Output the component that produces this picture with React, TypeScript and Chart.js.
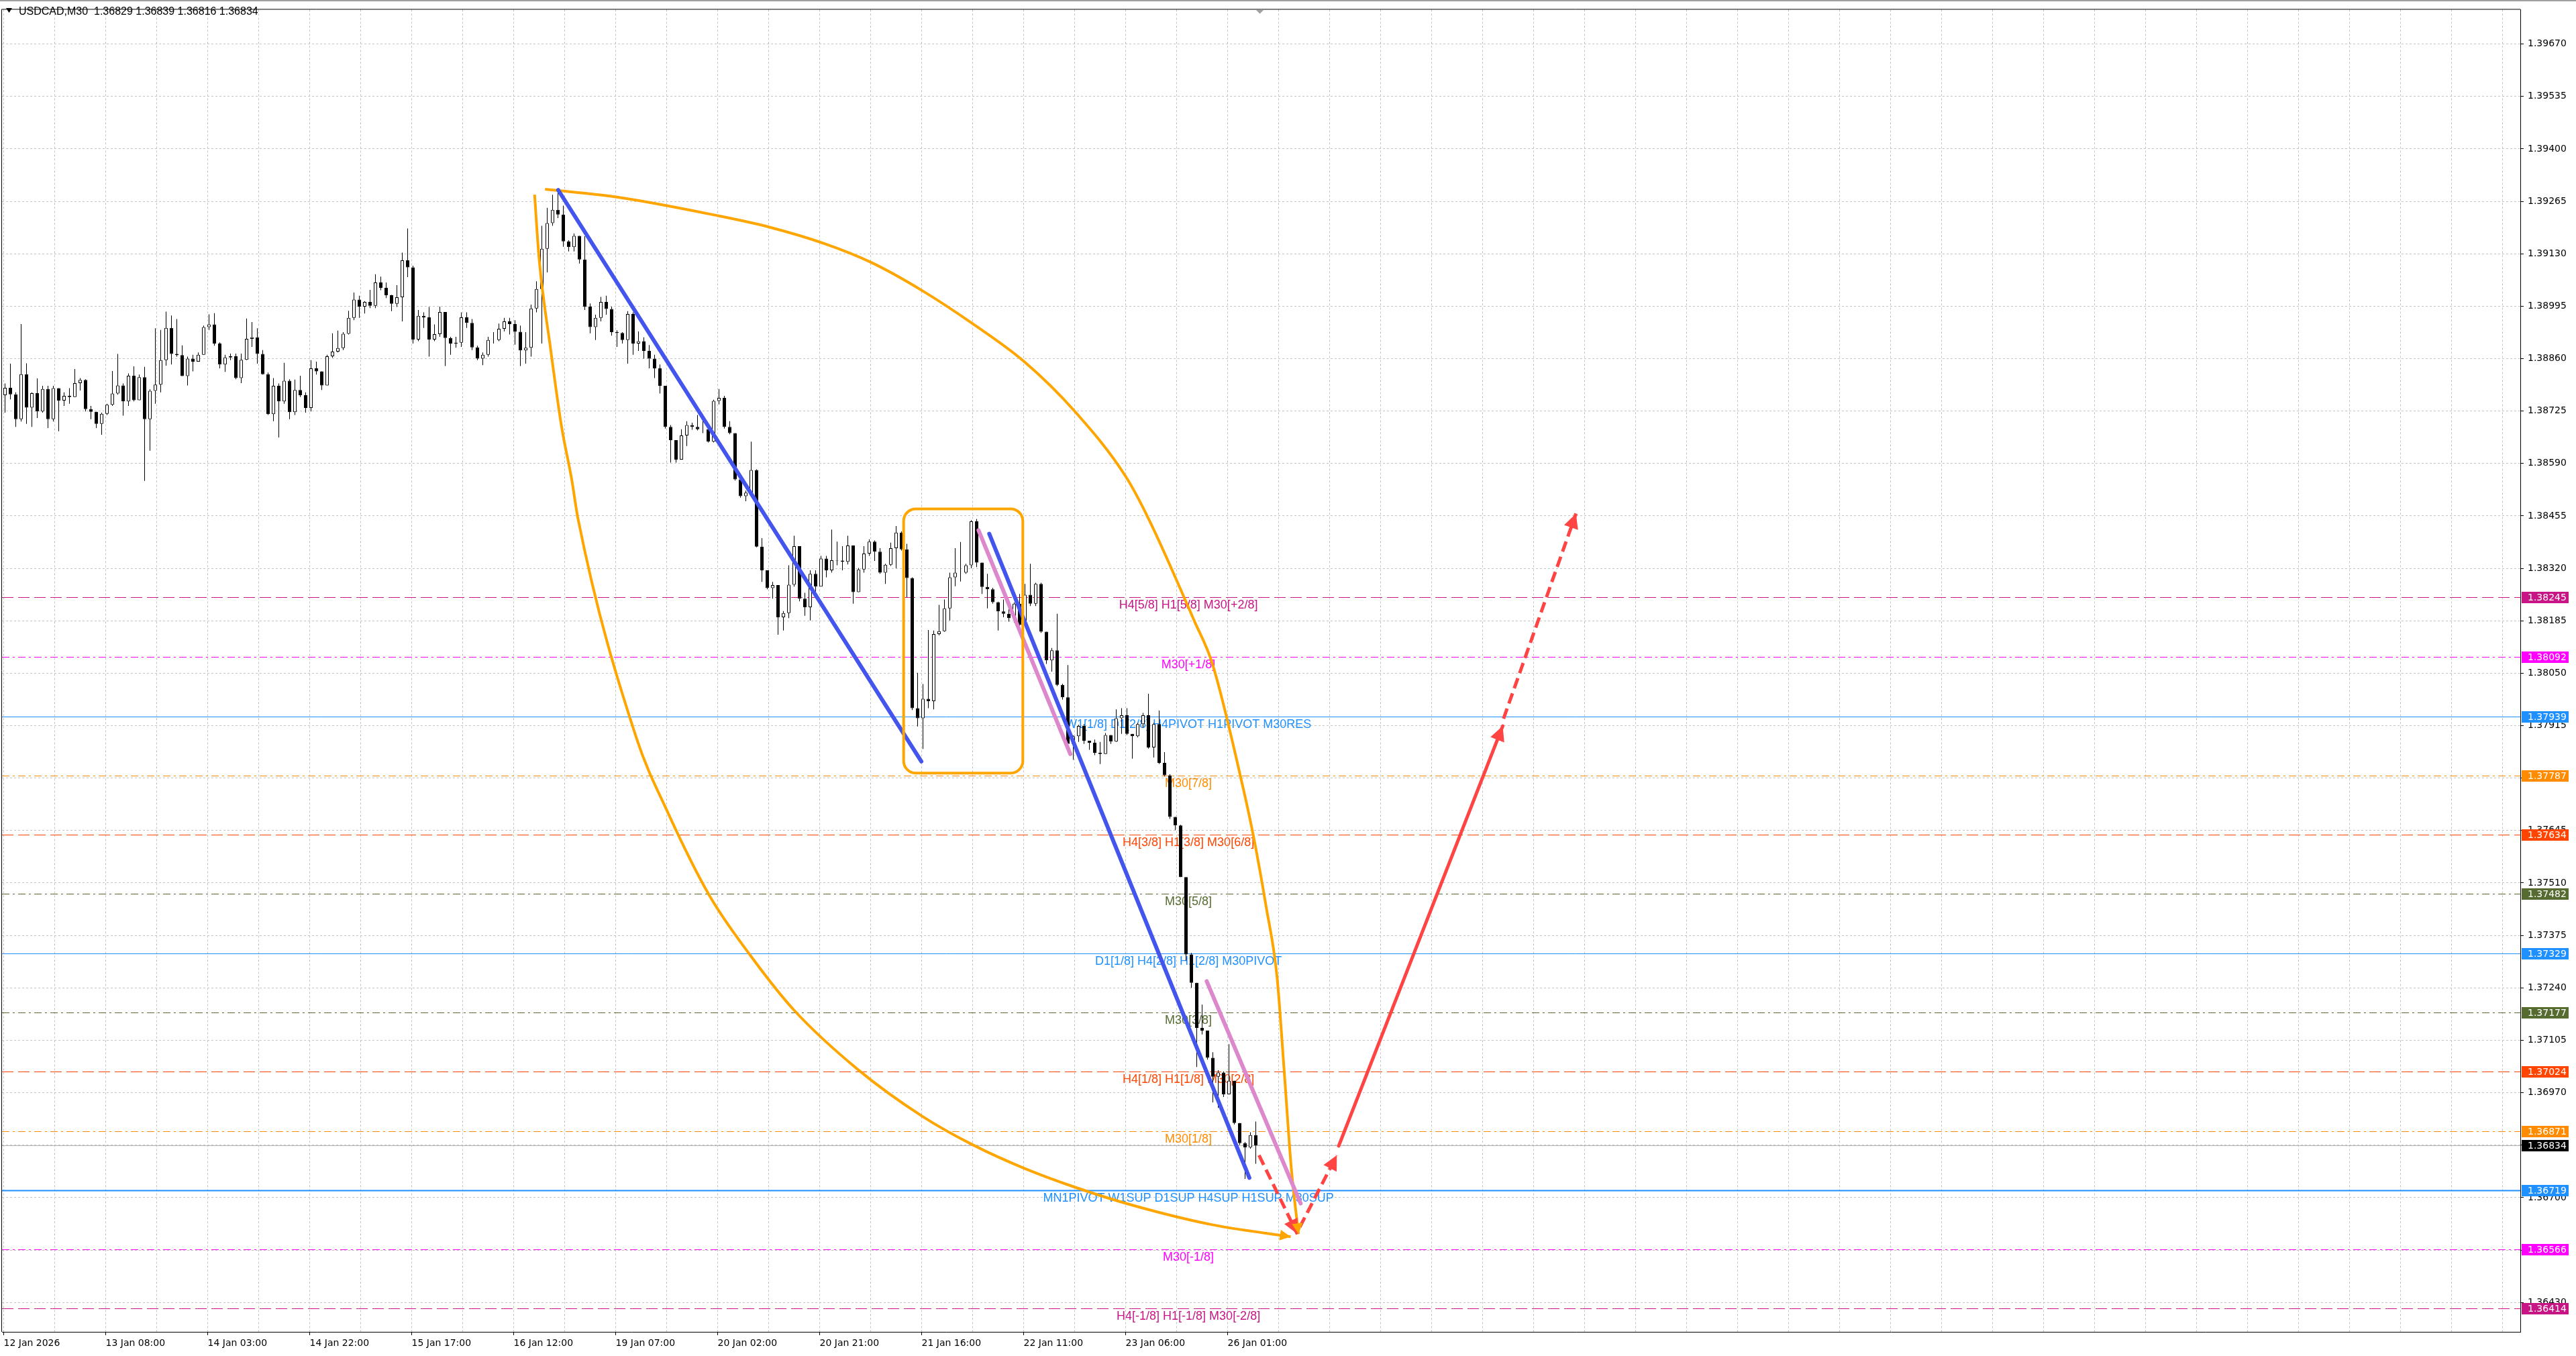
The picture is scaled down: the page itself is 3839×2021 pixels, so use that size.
import { useEffect, useRef } from 'react';
import { Chart, registerables } from 'chart.js';

Chart.register(...registerables);

const W = 3839;
const H = 2021;

const HEADER = 'USDCAD,M30  1.36829 1.36839 1.36816 1.36834';

// hourly candles, each one spans two M30 slots on the bar axis; open = previous close
const FIRST_OPEN = 1.38766;
const CLOSES = [
  1.38785, 1.38768, 1.38704, 1.3882, 1.38734, 1.38771, 1.38724, 1.38782, 1.38704, 1.38784,
  1.38752, 1.38764, 1.38761, 1.38797, 1.38805, 1.3873, 1.38723, 1.38692, 1.38718, 1.38741,
  1.3877, 1.38791, 1.3875, 1.38816, 1.38753, 1.38812, 1.38704, 1.38777, 1.38793, 1.38856,
  1.38939, 1.38872, 1.38869, 1.38815, 1.3886, 1.38852, 1.3887, 1.38941, 1.38948, 1.38899,
  1.38845, 1.38863, 1.38866, 1.3881, 1.38857, 1.38911, 1.38915, 1.38872, 1.3882, 1.38717,
  1.3879, 1.3875, 1.38803, 1.38722, 1.38779, 1.38766, 1.38733, 1.38835, 1.38827, 1.38791,
  1.38866, 1.38878, 1.38887, 1.38924, 1.38965, 1.39012, 1.38994, 1.39006, 1.38996, 1.39056,
  1.39042, 1.39023, 1.39001, 1.39018, 1.39113, 1.39095, 1.38909, 1.3897, 1.38966, 1.38909,
  1.38923, 1.3898, 1.38913, 1.38899, 1.38901, 1.38966, 1.38952, 1.38889, 1.3886, 1.3887,
  1.38908, 1.38908, 1.38937, 1.38956, 1.38949, 1.38929, 1.38881, 1.38888, 1.38989, 1.39039,
  1.39143, 1.39209, 1.39243, 1.39231, 1.39162, 1.39147, 1.39176, 1.39115, 1.38994, 1.38941,
  1.38965, 1.39006, 1.38988, 1.38928, 1.38926, 1.38908, 1.38975, 1.38899, 1.38905, 1.3888,
  1.3886, 1.38835, 1.3879, 1.38684, 1.3865, 1.386, 1.38662, 1.38689, 1.38684, 1.38678,
  1.38678, 1.38646, 1.38751, 1.38759, 1.38684, 1.38668, 1.38549, 1.38506, 1.38515, 1.38573,
  1.38376, 1.38315, 1.38269, 1.38277, 1.38194, 1.38205, 1.38278, 1.38377, 1.38242, 1.3822,
  1.38306, 1.38273, 1.38345, 1.38315, 1.38341, 1.3834, 1.38337, 1.38379, 1.38259, 1.38317,
  1.38358, 1.38389, 1.38363, 1.38309, 1.38329, 1.38372, 1.38412, 1.38369, 1.38295, 1.3796,
  1.37934, 1.37984, 1.37978, 1.38151, 1.38158, 1.38217, 1.38297, 1.38309, 1.38309, 1.38328,
  1.38441, 1.38335, 1.38272, 1.38266, 1.38233, 1.38209, 1.38203, 1.38192, 1.38229, 1.38174,
  1.38252, 1.38229, 1.3828, 1.38157, 1.38083, 1.38109, 1.3802, 1.37988, 1.37868, 1.37888,
  1.37914, 1.37876, 1.37871, 1.37845, 1.37842, 1.37891, 1.37874, 1.37934, 1.37942, 1.37894,
  1.37888, 1.37919, 1.37942, 1.37859, 1.37919, 1.37819, 1.37787, 1.3768, 1.37658, 1.37525,
  1.37326, 1.37253, 1.37137, 1.3713, 1.3706, 1.37011, 1.37022, 1.36966, 1.37001, 1.36892,
  1.3684, 1.36829, 1.36861, 1.36834,
];
const HIGHS = [
  1.38796, 1.38847, 1.38773, 1.38949, 1.38848, 1.38773, 1.38809, 1.3879, 1.3879, 1.3879,
  1.38778, 1.38773, 1.38784, 1.38833, 1.3881, 1.38807, 1.38738, 1.38721, 1.38721, 1.38744,
  1.38828, 1.38872, 1.38796, 1.38822, 1.3884, 1.38819, 1.38839, 1.38781, 1.38938, 1.38934,
  1.38981, 1.38971, 1.38962, 1.38894, 1.38865, 1.3887, 1.38876, 1.38945, 1.38974, 1.38977,
  1.38902, 1.3887, 1.38873, 1.38873, 1.38873, 1.38963, 1.38954, 1.38938, 1.38882, 1.38824,
  1.3881, 1.38796, 1.38849, 1.38807, 1.38806, 1.38816, 1.38773, 1.38856, 1.38852, 1.38796,
  1.3887, 1.38925, 1.38932, 1.38928, 1.38983, 1.3903, 1.39022, 1.39008, 1.39037, 1.39077,
  1.39071, 1.39056, 1.39024, 1.39049, 1.39133, 1.39195, 1.39099, 1.38985, 1.38979, 1.38993,
  1.38948, 1.38994, 1.38979, 1.38916, 1.38916, 1.38979, 1.38979, 1.38962, 1.38893, 1.38876,
  1.38916, 1.38928, 1.3895, 1.38965, 1.38965, 1.38959, 1.38945, 1.38928, 1.38999, 1.39059,
  1.39202, 1.39248, 1.39282, 1.39288, 1.39254, 1.39165, 1.39182, 1.39131, 1.39175, 1.39002,
  1.38973, 1.39019, 1.39022, 1.38994, 1.38933, 1.38928, 1.38982, 1.38979, 1.3893, 1.38915,
  1.38895, 1.3887, 1.38845, 1.3879, 1.38689, 1.3865, 1.38678, 1.38699, 1.38695, 1.38715,
  1.38708, 1.38687, 1.38754, 1.38782, 1.38764, 1.38699, 1.38668, 1.38549, 1.3852, 1.38646,
  1.38575, 1.38398, 1.38315, 1.38285, 1.3826, 1.3821, 1.38328, 1.38404, 1.38377, 1.38257,
  1.38315, 1.38315, 1.38352, 1.38352, 1.3842, 1.38389, 1.38377, 1.38404, 1.38352, 1.38321,
  1.38377, 1.38395, 1.38392, 1.38372, 1.38332, 1.38386, 1.38429, 1.38415, 1.38383, 1.38297,
  1.38051, 1.38022, 1.38161, 1.3816, 1.38226, 1.3824, 1.38309, 1.38372, 1.38388, 1.38332,
  1.38444, 1.38447, 1.38292, 1.38306, 1.3827, 1.38234, 1.3824, 1.38232, 1.38232, 1.38254,
  1.3828, 1.38332, 1.38283, 1.38283, 1.38157, 1.38115, 1.38203, 1.38023, 1.38071, 1.3789,
  1.37917, 1.37919, 1.37874, 1.37879, 1.37873, 1.37896, 1.37891, 1.37957, 1.3796, 1.3796,
  1.37894, 1.37922, 1.37948, 1.37997, 1.37922, 1.37954, 1.37847, 1.3779, 1.37677, 1.3766,
  1.37525, 1.3733, 1.37197, 1.37197, 1.3713, 1.37074, 1.37028, 1.37025, 1.37095, 1.37001,
  1.36892, 1.36843, 1.36868, 1.36896,
];
const LOWS = [
  1.38721, 1.38755, 1.38684, 1.38698, 1.38692, 1.38684, 1.38707, 1.38721, 1.38681, 1.38698,
  1.38673, 1.38738, 1.38744, 1.38761, 1.38778, 1.38724, 1.38704, 1.38681, 1.38664, 1.38715,
  1.38738, 1.38767, 1.38713, 1.38738, 1.3875, 1.38755, 1.38545, 1.38623, 1.38744, 1.38773,
  1.38842, 1.38845, 1.38865, 1.38815, 1.38791, 1.38827, 1.38856, 1.3887, 1.38934, 1.38893,
  1.38835, 1.38826, 1.38856, 1.38807, 1.38797, 1.38856, 1.3889, 1.38847, 1.38819, 1.38715,
  1.38699, 1.38657, 1.38744, 1.38704, 1.38715, 1.38761, 1.38721, 1.38724, 1.38819, 1.38779,
  1.38793, 1.38862, 1.38876, 1.38882, 1.38922, 1.38959, 1.38965, 1.38976, 1.3899, 1.3899,
  1.39036, 1.39016, 1.38982, 1.38993, 1.38956, 1.3907, 1.38899, 1.38905, 1.38939, 1.38865,
  1.38905, 1.38916, 1.38841, 1.3887, 1.38888, 1.3889, 1.38939, 1.38882, 1.38856, 1.38843,
  1.38865, 1.38899, 1.38905, 1.3893, 1.38922, 1.38896, 1.38841, 1.38847, 1.38865, 1.38979,
  1.38899, 1.39082, 1.39202, 1.39222, 1.39148, 1.39136, 1.39136, 1.39105, 1.38985, 1.38925,
  1.38908, 1.38956, 1.38973, 1.38919, 1.3889, 1.38899, 1.38847, 1.3887, 1.3888, 1.3886,
  1.38835, 1.3881, 1.3877, 1.3868, 1.38592, 1.38592, 1.386, 1.38635, 1.38677, 1.38675,
  1.38668, 1.38644, 1.38644, 1.38742, 1.3868, 1.38665, 1.38546, 1.38502, 1.38493, 1.38512,
  1.38374, 1.38285, 1.38266, 1.38242, 1.38149, 1.3816, 1.38192, 1.38273, 1.38235, 1.38198,
  1.38186, 1.3826, 1.38278, 1.38297, 1.38309, 1.38328, 1.38315, 1.3833, 1.38229, 1.38266,
  1.38309, 1.38352, 1.38339, 1.38306, 1.3828, 1.38326, 1.3832, 1.38366, 1.38246, 1.37955,
  1.37913, 1.37855, 1.3796, 1.37957, 1.38148, 1.38157, 1.38186, 1.38274, 1.38286, 1.38306,
  1.3832, 1.38323, 1.38254, 1.38217, 1.38229, 1.3816, 1.38194, 1.38183, 1.3818, 1.38172,
  1.38172, 1.38223, 1.38223, 1.38154, 1.38074, 1.38054, 1.38017, 1.37982, 1.37862, 1.37827,
  1.37873, 1.37868, 1.37853, 1.37839, 1.37816, 1.37848, 1.37868, 1.37873, 1.37894, 1.37891,
  1.3783, 1.37885, 1.3791, 1.37856, 1.37833, 1.37816, 1.37784, 1.37675, 1.37646, 1.37525,
  1.3731, 1.3724, 1.37036, 1.3712, 1.37055, 1.36945, 1.36931, 1.36959, 1.36995, 1.36888,
  1.36836, 1.36748, 1.36826, 1.36787,
];

// time axis: bar index (M30 slots) of each labelled grid line
const X_TICK_BARS = [0, 38, 76, 114, 152, 190, 228, 266, 304, 342, 380, 418, 456];
const X_TICK_LABELS = [
  '12 Jan 2026', '13 Jan 08:00', '14 Jan 03:00', '14 Jan 22:00', '15 Jan 17:00', '16 Jan 12:00',
  '19 Jan 07:00', '20 Jan 02:00', '20 Jan 21:00', '21 Jan 16:00', '22 Jan 11:00', '23 Jan 06:00',
  '26 Jan 01:00',
];
const Y_TICKS = [
  1.3643, 1.36565, 1.367, 1.36835, 1.3697, 1.37105, 1.3724, 1.37375, 1.3751, 1.37645, 1.3778,
  1.37915, 1.3805, 1.38185, 1.3832, 1.38455, 1.3859, 1.38725, 1.3886, 1.38995, 1.3913, 1.39265,
  1.394, 1.39535, 1.3967,
];

// horizontal levels
const LEVEL_PRICES = [
  1.38245, 1.38092, 1.37939, 1.37787, 1.37634, 1.37482, 1.37329, 1.37177, 1.37024, 1.36871,
  1.36719, 1.36566, 1.36414,
];
const LEVEL_LABELS = [
  'H4[5/8] H1[5/8] M30[+2/8]',
  'M30[+1/8]',
  'W1[1/8] D1[2/8] H4PIVOT H1PIVOT M30RES',
  'M30[7/8]',
  'H4[3/8] H1[3/8] M30[6/8]',
  'M30[5/8]',
  'D1[1/8] H4[2/8] H1[2/8] M30PIVOT',
  'M30[3/8]',
  'H4[1/8] H1[1/8] M30[2/8]',
  'M30[1/8]',
  'MN1PIVOT W1SUP D1SUP H4SUP H1SUP M30SUP',
  'M30[-1/8]',
  'H4[-1/8] H1[-1/8] M30[-2/8]',
];
const LABEL_BAR = 441.4;
const LAST_PRICE = 1.36834;

// drawn objects: [bar, price] pairs
const BLUE_LINES = [
  [[206.6, 1.39294], [341.9, 1.37823]],
  [[367.2, 1.38409], [464.1, 1.36751]],
];
const PINK_LINES = [
  [[363.2, 1.38418], [397.4, 1.37842]],
  [[448.2, 1.37257], [483.2, 1.36685]],
];
const RED_ARROWS = [
  [[467.7, 1.36809], [482.0, 1.36606]],
  [[482.9, 1.36624], [496.7, 1.36809]],
  [[497.4, 1.36833], [558.5, 1.37914]],
  [[558.8, 1.37933], [585.8, 1.38461]],
];
const BOX = [[335.3, 1.38473], [379.7, 1.37793]];
const ARC_A_BARS = [
  197.8, 199.5, 203.7, 207.8, 211.6, 214, 235.8, 247.2, 262.9, 277.6, 294.4, 318.2, 342.1, 361,
  380, 399, 421.2, 450.3, 479.5,
];
const ARC_A_PRICES = [
  1.39282, 1.39116, 1.38888, 1.38687, 1.3855, 1.38447, 1.37882, 1.37695, 1.37478, 1.37329,
  1.37183, 1.3703, 1.3691, 1.36836, 1.36776, 1.36727, 1.36679, 1.3663, 1.36599,
];
const ARC_B_BARS = [
  201.7, 229.3, 266, 285, 305.8, 323.1, 342, 361, 380.1, 399.1, 418.1, 426.6, 443.7, 450.3,
  461.6, 465.7, 470.3, 474.4, 477.1, 479.7, 482.4,
];
const ARC_B_PRICES = [
  1.39296, 1.39275, 1.39228, 1.39199, 1.39156, 1.39108, 1.39036, 1.3895, 1.38853, 1.38724,
  1.38556, 1.38447, 1.38183, 1.38075, 1.3776, 1.37628, 1.37451, 1.37269, 1.37024, 1.36778,
  1.36606,
];
const SHIFT_BAR = 468;

// styles
const LEVEL_COLORS = [
  '#C71585', '#FF00FF', '#1E90FF', '#FF8C00', '#FF4500', '#556B2F', '#1E90FF', '#556B2F',
  '#FF4500', '#FF8C00', '#1E90FF', '#FF00FF', '#C71585',
];
const LEVEL_DASH = ['dash', 'dot', 'solid', 'dot', 'dash', 'dot', 'solid', 'dot', 'dash', 'dot', 'solid', 'dot', 'dash'];
const DASHES: Record<string, number[]> = { dash: [17, 7], dot: [11, 5, 3, 5], solid: [] };
const AXIS_FONT = { family: '"DejaVu Sans", Verdana, sans-serif', size: 14 };
const LABEL_FONT = '18px "Liberation Sans", Arial, sans-serif';
const GRID = '#c4c4c4';
const ORANGE = '#FFA500';
const BLUE = '#4455EE';
const PINK = '#DD88CC';
const RED = '#FF4444';

const X_MIN = -0.625;
const X_MAX = 937.625;

function arrowHead(ctx: CanvasRenderingContext2D, x0: number, y0: number, x1: number, y1: number, len: number, half: number, color: string) {
  const a = Math.atan2(y1 - y0, x1 - x0);
  const c = Math.cos(a);
  const s = Math.sin(a);
  ctx.save();
  ctx.fillStyle = color;
  ctx.beginPath();
  ctx.moveTo(x1, y1);
  ctx.lineTo(x1 - len * c + half * s, y1 - len * s - half * c);
  ctx.lineTo(x1 - len * c - half * s, y1 - len * s + half * c);
  ctx.closePath();
  ctx.fill();
  ctx.restore();
}

const overlay = {
  id: 'overlay',
  beforeDraw(chart: any) {
    const { ctx } = chart;
    ctx.save();
    ctx.fillStyle = '#ffffff';
    ctx.fillRect(0, 0, W, H);
    ctx.restore();
  },
  beforeDatasetsDraw(chart: any) {
    const { ctx, chartArea: a, scales } = chart;
    const y = scales.y;
    const x = scales.x;
    ctx.save();
    ctx.beginPath();
    ctx.rect(a.left, a.top, a.right - a.left, a.bottom - a.top);
    ctx.clip();
    // current price line
    const py0 = Math.round(y.getPixelForValue(LAST_PRICE)) + 0.5;
    ctx.strokeStyle = '#b4b4b4';
    ctx.lineWidth = 1;
    ctx.setLineDash([]);
    ctx.beginPath();
    ctx.moveTo(a.left, py0);
    ctx.lineTo(a.right, py0);
    ctx.stroke();
    LEVEL_PRICES.forEach((p, i) => {
      const py = Math.round(y.getPixelForValue(p)) + 0.5;
      ctx.strokeStyle = LEVEL_COLORS[i];
      ctx.lineWidth = i === 10 ? 2 : 1;
      ctx.setLineDash(DASHES[LEVEL_DASH[i]]);
      ctx.beginPath();
      ctx.moveTo(a.left, py);
      ctx.lineTo(a.right, py);
      ctx.stroke();
    });
    ctx.setLineDash([]);
    ctx.font = LABEL_FONT;
    ctx.textAlign = 'center';
    ctx.textBaseline = 'alphabetic';
    const lx = x.getPixelForValue(LABEL_BAR);
    LEVEL_PRICES.forEach((p, i) => {
      ctx.fillStyle = LEVEL_COLORS[i];
      ctx.fillText(LEVEL_LABELS[i], lx, y.getPixelForValue(p) + 17);
    });
    ctx.restore();
  },
  afterDatasetsDraw(chart: any) {
    const { ctx, scales } = chart;
    const x = scales.x;
    const y = scales.y;
    const px = (pt: number[]) => [x.getPixelForValue(pt[0]), y.getPixelForValue(pt[1])];
    // rounded box
    const [b0x, b0y] = px(BOX[0]);
    const [b1x, b1y] = px(BOX[1]);
    ctx.save();
    ctx.strokeStyle = ORANGE;
    ctx.lineWidth = 4;
    ctx.beginPath();
    ctx.roundRect(b0x, b0y, b1x - b0x, b1y - b0y, 18);
    ctx.stroke();
    ctx.restore();
    // arrow heads
    RED_ARROWS.forEach(([s, e]) => {
      const [sx, sy] = px(s);
      const [ex, ey] = px(e);
      arrowHead(ctx, sx, sy, ex, ey, 22, 11, RED);
    });
    const na = ARC_A_BARS.length;
    const [a0x, a0y] = px([ARC_A_BARS[na - 2], ARC_A_PRICES[na - 2]]);
    const [a1x, a1y] = px([ARC_A_BARS[na - 1], ARC_A_PRICES[na - 1]]);
    arrowHead(ctx, a0x, a0y, a1x, a1y, 16, 8, ORANGE);
    const nb = ARC_B_BARS.length;
    const [c0x, c0y] = px([ARC_B_BARS[nb - 2], ARC_B_PRICES[nb - 2]]);
    const [c1x, c1y] = px([ARC_B_BARS[nb - 1], ARC_B_PRICES[nb - 1]]);
    arrowHead(ctx, c0x, c0y, c1x, c1y, 16, 8, ORANGE);
  },
  afterDraw(chart: any) {
    const { ctx, chartArea: a, scales } = chart;
    const y = scales.y;
    const x = scales.x;
    ctx.save();
    // frame
    ctx.strokeStyle = '#000';
    ctx.lineWidth = 1;
    ctx.beginPath();
    ctx.moveTo(a.left - 0.5, a.bottom);
    ctx.lineTo(a.left - 0.5, a.top - 0.5);
    ctx.lineTo(a.right, a.top - 0.5);
    ctx.stroke();
    ctx.fillStyle = '#a0a0a0';
    ctx.fillRect(0, 0, W, 2);
    // chart shift marker
    const sx = x.getPixelForValue(SHIFT_BAR);
    ctx.fillStyle = '#a0a0a0';
    ctx.beginPath();
    ctx.moveTo(sx - 6, a.top);
    ctx.lineTo(sx + 6, a.top);
    ctx.lineTo(sx, a.top + 6);
    ctx.closePath();
    ctx.fill();
    // price tags
    ctx.font = `${AXIS_FONT.size}px ${AXIS_FONT.family}`;
    ctx.textAlign = 'left';
    ctx.textBaseline = 'middle';
    const tag = (p: number, color: string) => {
      const py = Math.round(y.getPixelForValue(p));
      ctx.fillStyle = color;
      ctx.fillRect(a.right + 2, py - 8, 70, 17);
      ctx.fillStyle = '#ffffff';
      ctx.fillText(p.toFixed(5), a.right + 11, py + 1);
    };
    LEVEL_PRICES.forEach((p, i) => tag(p, LEVEL_COLORS[i]));
    tag(LAST_PRICE, '#000000');
    // header
    ctx.fillStyle = '#000';
    ctx.beginPath();
    ctx.moveTo(9, 12);
    ctx.lineTo(18, 12);
    ctx.lineTo(13.5, 19);
    ctx.closePath();
    ctx.fill();
    ctx.font = '16px "Liberation Sans", Arial, sans-serif';
    ctx.textBaseline = 'alphabetic';
    ctx.fillText(HEADER, 28, 22);
    ctx.restore();
  },
};

export default function App() {
  const canvasRef = useRef<HTMLCanvasElement | null>(null);

  useEffect(() => {
    document.body.style.margin = '0';
    document.body.style.overflow = 'hidden';
    if (!canvasRef.current) return;

    const opens = CLOSES.map((_, i) => (i === 0 ? FIRST_OPEN : CLOSES[i - 1]));
    const slot = (i: number) => 2 * i + 0.5;
    const bodies = CLOSES.map((c, i) => ({ x: slot(i), y: [opens[i], c] }));
    const wicks = CLOSES.map((c, i) => ({
      x: slot(i),
      y: [Math.min(LOWS[i], opens[i], c), Math.max(HIGHS[i], opens[i], c)],
    }));
    const seg = (pts: number[][]) => pts.map((p) => ({ x: p[0], y: p[1] }));
    const gridBars = Array.from({ length: 50 }, (_, i) => i * 19);

    const lineDs = (data: any[], color: string, width: number, extra: any = {}) => ({
      type: 'line' as const,
      data,
      borderColor: color,
      borderWidth: width,
      pointRadius: 0,
      fill: false,
      tension: 0,
      order: 0,
      ...extra,
    });

    const chart = new Chart(canvasRef.current, {
      type: 'bar',
      data: {
        datasets: [
          ...BLUE_LINES.map((l) => lineDs(seg(l), BLUE, 6, { borderCapStyle: 'round' })),
          ...PINK_LINES.map((l) => lineDs(seg(l), PINK, 6, { borderCapStyle: 'round' })),
          ...RED_ARROWS.map((l, i) =>
            lineDs(seg(l), RED, 5, i === 2 ? { borderCapStyle: 'round' } : { borderDash: [16, 8] })
          ),
          lineDs(
            ARC_A_BARS.map((b, i) => ({ x: b, y: ARC_A_PRICES[i] })),
            ORANGE,
            4,
            { cubicInterpolationMode: 'monotone' }
          ),
          lineDs(
            ARC_B_BARS.map((b, i) => ({ x: b, y: ARC_B_PRICES[i] })),
            ORANGE,
            4,
            { cubicInterpolationMode: 'monotone' }
          ),
          {
            type: 'bar' as const,
            data: bodies as any,
            barThickness: 5,
            grouped: false,
            borderSkipped: false,
            inflateAmount: 0,
            borderWidth: 1,
            borderColor: '#000000',
            backgroundColor: bodies.map((b) => (b.y[1] >= b.y[0] ? '#ffffff' : '#000000')),
            order: 1,
          },
          {
            type: 'bar' as const,
            data: wicks as any,
            barThickness: 1,
            grouped: false,
            borderSkipped: false,
            inflateAmount: 0,
            borderWidth: 0,
            backgroundColor: '#000000',
            order: 2,
          },
        ] as any,
      },
      options: {
        animation: false,
        responsive: false,
        devicePixelRatio: 1,
        events: [],
        layout: { padding: { left: 3, top: 5, right: 0, bottom: 0 } },
        plugins: { legend: { display: false }, tooltip: { enabled: false } },
        scales: {
          x: {
            type: 'linear',
            position: 'bottom',
            min: X_MIN,
            max: X_MAX,
            offset: false,
            afterBuildTicks: (s: any) => {
              s.ticks = gridBars.map((v) => ({ value: v }));
            },
            afterFit: (s: any) => {
              s.height = 36;
            },
            grid: {
              color: GRID,
              lineWidth: 1,
              offset: false,
              drawTicks: true,
              tickLength: 5,
              tickColor: (c: any) => (X_TICK_BARS.includes(c.tick?.value) ? '#000' : 'rgba(0,0,0,0)'),
            },
            border: { display: true, color: '#000', width: 1, dash: [3, 3] },
            ticks: {
              autoSkip: false,
              maxRotation: 0,
              minRotation: 0,
              align: 'start',
              padding: 4,
              color: '#000',
              font: AXIS_FONT,
              callback: (v: any) => {
                const i = X_TICK_BARS.indexOf(Number(v));
                return i >= 0 ? X_TICK_LABELS[i] : '';
              },
            },
          },
          y: {
            type: 'linear',
            position: 'right',
            min: 1.363543,
            max: 1.397584,
            beginAtZero: false,
            afterBuildTicks: (s: any) => {
              s.ticks = Y_TICKS.map((v) => ({ value: v }));
            },
            afterFit: (s: any) => {
              s.width = 83;
            },
            grid: { color: GRID, lineWidth: 1, drawTicks: true, tickLength: 5, tickColor: '#000' },
            border: { display: true, color: '#000', width: 1, dash: [3, 3] },
            ticks: {
              padding: 6,
              color: '#000',
              font: AXIS_FONT,
              callback: (v: any) => Number(v).toFixed(5),
            },
          },
        },
      } as any,
      plugins: [overlay],
    });

    return () => {
      chart.destroy();
    };
  }, []);

  return (
    <div style={{ width: W, height: H, position: 'relative', background: '#fff' }}>
      <canvas ref={canvasRef} width={W} height={H} style={{ display: 'block' }} />
    </div>
  );
}
